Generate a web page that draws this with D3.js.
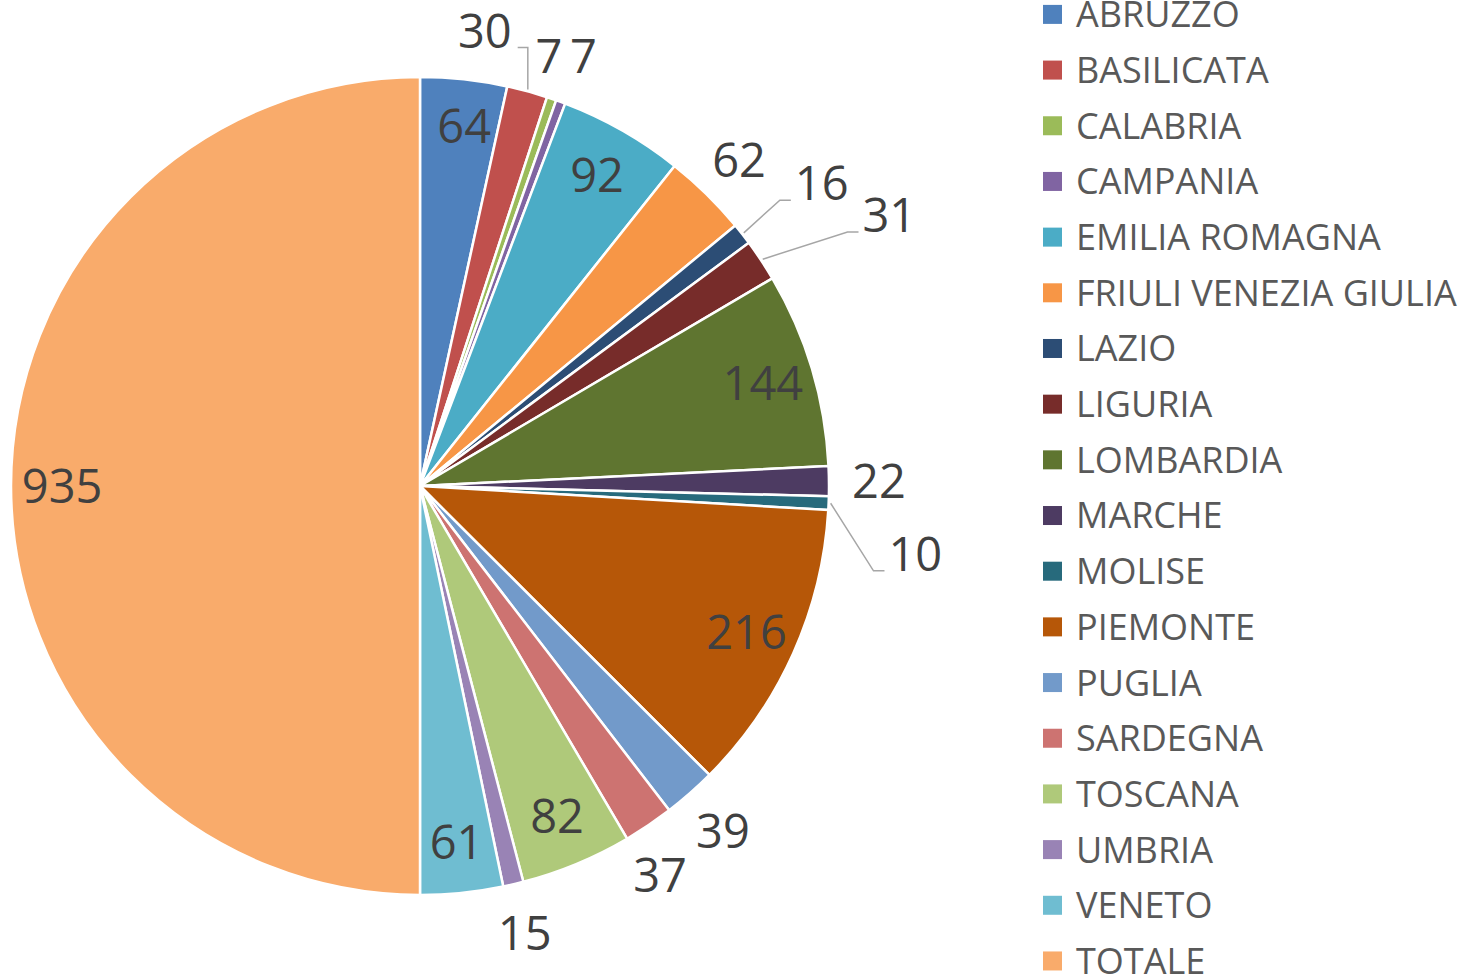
<!DOCTYPE html>
<html>
<head>
<meta charset="utf-8">
<script src="https://cdn.jsdelivr.net/npm/d3@7/dist/d3.min.js"></script>
<style>
html,body{margin:0;padding:0;background:#fff;}
svg{display:block;}
</style>
</head>
<body>
<svg id="chart" width="1484" height="976"></svg>
<script>
// ---- data ----
const categories = ["ABRUZZO","BASILICATA","CALABRIA","CAMPANIA","EMILIA ROMAGNA","FRIULI VENEZIA GIULIA","LAZIO","LIGURIA","LOMBARDIA","MARCHE","MOLISE","PIEMONTE","PUGLIA","SARDEGNA","TOSCANA","UMBRIA","VENETO","TOTALE"];
const values = [64,30,7,7,92,62,16,31,144,22,10,216,39,37,82,15,61,935];
const colors = ["#4F81BD","#C0504D","#9BBB59","#8064A2","#4BACC6","#F79646","#2C4D75","#772C2A","#5F7530","#4D3B62","#276A7C","#B65708","#729ACA","#CD7371","#AFC97A","#9983B5","#6FBDD1","#F9AB6B"];

// ---- layout (positions/styles only) ----
const cx = 420, cy = 486, R = 409;
const insideFrac = 0.875, outsideR = 459;
const labelFont = "'Open Sans', 'Noto Sans', sans-serif";
const labelSize = 47;
// label overrides: angle in degrees (clockwise from 12 o'clock), radius px, leader line flag
const labelOverride = {
  0: {a: 7.0, r: 363},
  1: {a: 8.1, r: 460, leader: true},
  2: {a: 16.7, r: 449},
  3: {a: 20.8, r: 460},
  5: {a: 44.4, r: 456},
  6: {a: 53.0, r: 503, leader: true},
  7: {a: 60.0, r: 542, leader: true},
  10: {a: 97.8, r: 500, leader: true},
  13: {a: 148.3, r: 457}
};

const svg = d3.select("#chart");
const g = svg.append("g").attr("transform", `translate(${cx},${cy})`);

const pie = d3.pie().sort(null).value(d => d)(values);
const arc = d3.arc().innerRadius(0).outerRadius(R);

g.selectAll("path.slice").data(pie).enter().append("path")
  .attr("class","slice")
  .attr("d", arc)
  .attr("fill", (d,i) => colors[i])
  .attr("stroke", "#fff")
  .attr("stroke-width", 2.5)
  .attr("stroke-linejoin", "round");

const toRad = a => a * Math.PI / 180;
const polar = (ang, r) => [Math.sin(ang) * r, -Math.cos(ang) * r];

pie.forEach((d, i) => {
  const mid = (d.startAngle + d.endAngle) / 2;
  const ov = labelOverride[i];
  let ang = mid, r;
  if (ov) { ang = toRad(ov.a); r = ov.r; }
  else r = values[i] >= 60 ? R * insideFrac : outsideR;
  const [x, y] = polar(ang, r);
  const t = g.append("text")
    .attr("x", x).attr("y", y).attr("dy", "0.36em")
    .attr("text-anchor", "middle")
    .attr("font-family", labelFont)
    .attr("font-size", labelSize)
    .attr("fill", "#404040")
    .text(values[i]);
  if (ov && ov.leader) {
    const bb = t.node().getBBox();
    const [sx, sy] = polar(mid, R + 2);
    const ey = y + 0.36 * labelSize;
    let pts;
    if (x < sx) {
      const ex = bb.x + bb.width + 6;
      pts = [[sx, sy],[sx, ey],[ex, ey]];
    } else {
      const ex = bb.x - 4;
      pts = [[sx, sy],[ex - 11, ey],[ex, ey]];
    }
    g.insert("path", "text")
      .attr("d", d3.line()(pts))
      .attr("fill", "none")
      .attr("stroke", "#A6A6A6")
      .attr("stroke-width", 1.5);
  }
});

// ---- legend ----
const legY0 = 14.4, legStep = 55.68;
const leg = svg.append("g");
categories.forEach((c, i) => {
  const y = legY0 + i * legStep;
  leg.append("rect").attr("x", 1043).attr("y", y - 9.5).attr("width", 19).attr("height", 19).attr("fill", colors[i]);
  leg.append("text").attr("x", 1076).attr("y", y).attr("dy", "0.36em")
    .attr("font-family", labelFont).attr("font-size", 36).attr("fill", "#595959")
    .text(c);
});
</script>
</body>
</html>
